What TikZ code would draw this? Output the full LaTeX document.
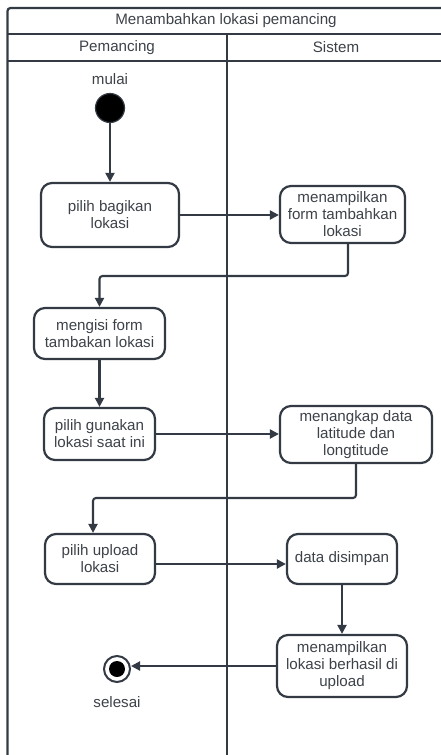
\documentclass[tikz,border=0pt]{standalone}
\usepackage{fontspec}
\setmainfont{Liberation Sans}
\usetikzlibrary{arrows.meta}
\definecolor{ln}{HTML}{333A44}
\definecolor{tx}{HTML}{3D4249}
\begin{document}
\begin{tikzpicture}[x=1bp,y=-1bp,
  act/.style={draw=ln, line width=2.2bp, rounded corners=11bp, align=center,
    text=tx, font=\fontsize{15.2}{17}\selectfont, inner sep=0pt},
  flow/.style={draw=ln, line width=2.1bp, rounded corners=3bp,
    -{Triangle[length=9bp,width=9bp]}},
  lane/.style={draw=ln, line width=2.2bp},
  lbl/.style={text=tx, font=\fontsize{15.2}{17}\selectfont, inner sep=0pt}
]
\useasboundingbox (0,0) rectangle (441,755);
\begin{scope}
  \clip (0,0) rectangle (441,755);
  \draw[lane, rounded corners=3bp] (7.5,770) -- (7.5,8) -- (460,8);
  \draw[lane] (7.5,34) -- (460,34);
  \draw[lane] (7.5,61) -- (460,61);
  \draw[lane] (227,34) -- (227,770);
\end{scope}

\node[lbl] (title) at (226,21) {Menambahkan lokasi pemancing};
\node[lbl] (h1) at (117,47.5) {Pemancing};
\node[lbl] (h2) at (336,47.5) {Sistem};

\node[lbl] (mulai) at (110,79) {mulai};
\node[circle, draw=ln, fill=black, line width=1.2bp, minimum size=29bp, inner sep=0pt] (start) at (110,108) {};

\node[act, minimum width=138bp, minimum height=64bp] (a1) at (110,215) {pilih bagikan\\lokasi};
\node[act, minimum width=125bp, minimum height=57bp] (a2) at (342.5,214.5) {menampilkan\\form tambahkan\\lokasi};
\node[act, minimum width=131bp, minimum height=51bp] (a3) at (99.5,333.5) {mengisi form\\tambakan lokasi};
\node[act, minimum width=111bp, minimum height=52bp] (a4) at (99.5,434) {pilih gunakan\\lokasi saat ini};
\node[act, minimum width=152bp, minimum height=57bp] (a5) at (356,434.5) {menangkap data\\latitude dan\\longtitude};
\node[act, minimum width=110bp, minimum height=50bp] (a6) at (100,559) {pilih upload\\lokasi};
\node[act, minimum width=110bp, minimum height=50bp] (a7) at (342,559) {data disimpan};
\node[act, minimum width=130bp, minimum height=62bp] (a8) at (342,666) {menampilkan\\lokasi berhasil di\\upload};

\node[circle, draw=ln, line width=2bp, minimum size=26bp, inner sep=0pt,
  path picture={\fill[black] (path picture bounding box.center) circle (8bp);}] (end) at (117,669) {};
\node[lbl] (selesai) at (117,702) {selesai};

\coordinate (b1) at (348,276);
\coordinate (b2) at (356,498);

\draw[flow] (start) -- (a1);
\draw[flow] (a1.east) -- (a1.east -| a2.west);
\draw[flow] (a2.south -| b1) -- (b1) -| (a3.north);
\draw[flow] (a3) -- (a4);
\draw[flow] (a4.east) -- (a4.east -| a5.west);
\draw[flow] (a5.south) -- (b2) -| ([xshift=-7bp]a6.north);
\draw[flow] ([yshift=-5bp]a6.east) -- ([yshift=-5bp]a7.west);
\draw[flow] (a7) -- (a8);
\draw[flow] (a8.west) -- (a8.west -| end.east);
\end{tikzpicture}
\end{document}
